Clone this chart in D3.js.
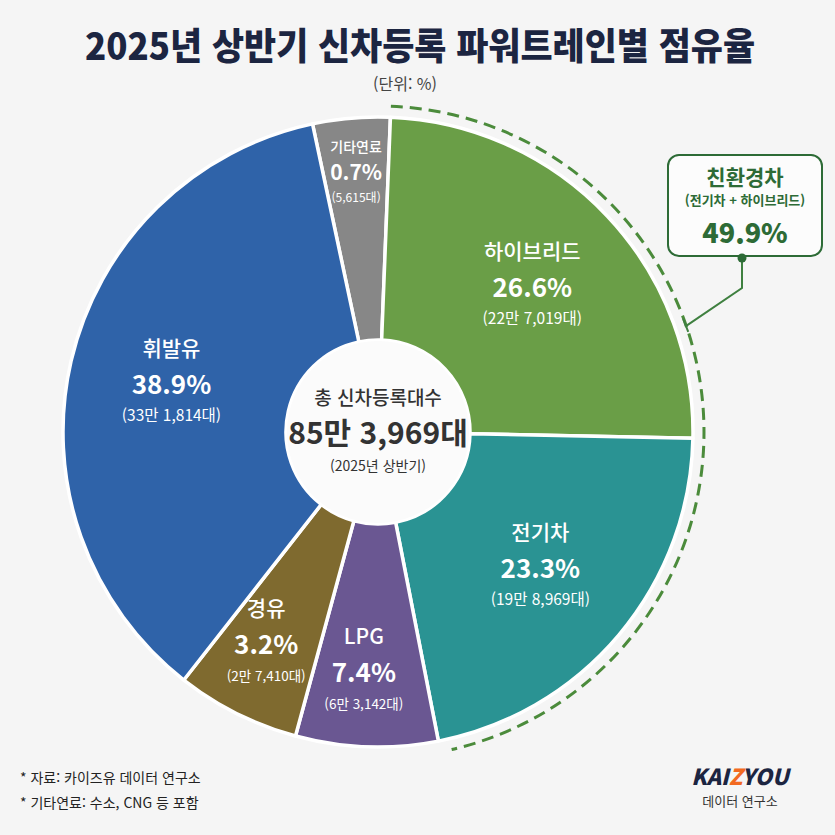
<!DOCTYPE html>
<html lang="ko">
<head>
<meta charset="utf-8">
<script src="https://cdn.jsdelivr.net/npm/d3@7"></script>
<style>
  html, body { margin: 0; padding: 0; background: #f5f5f5; }
  svg { display: block; font-family: "Noto Sans CJK KR", "Noto Sans", sans-serif; }
</style>
</head>
<body>
<div id="chart"></div>
<script>
// Data (2025 H1 new-car registrations by powertrain)
const fuels = ['기타연료', '하이브리드', '전기차', 'LPG', '경유', '휘발유'];
const shares = [0.7, 26.6, 23.3, 7.4, 3.2, 38.9];
const units = ['(5,615대)', '(22만 7,019대)', '(19만 8,969대)', '(6만 3,142대)', '(2만 7,410대)', '(33만 1,814대)'];
const colors = ['#878787', '#6a9e47', '#2a9393', '#6a5792', '#7f6a2f', '#2f63a9'];
const totalLabel = '85만 3,969대';
const ecoShare = 49.9;

const W = 835, H = 835;
const cx = 378, cy = 432;
const outerR = 315, innerR = 92;
const deg = Math.PI / 180;

const svg = d3.select('#chart')
    .append('svg')
    .attr('width', W)
    .attr('height', H);

svg.append('rect')
    .attr('width', W)
    .attr('height', H)
    .attr('fill', '#f5f5f5');

// Title
svg.append('text')
    .attr('x', 420)
    .attr('y', 60)
    .attr('text-anchor', 'middle')
    .attr('textLength', 670)
    .attr('lengthAdjust', 'spacingAndGlyphs')
    .style('font-size', '37px')
    .style('font-weight', 800)
    .style('fill', '#1c2541')
    .text('2025년 상반기 신차등록 파워트레인별 점유율');

svg.append('text')
    .attr('x', 405)
    .attr('y', 90)
    .attr('text-anchor', 'middle')
    .style('font-size', '16px')
    .style('fill', '#444')
    .text('(단위: %)');

// Slice size: small shares are stretched so their labels fit, as in the reference
const sliceScale = d3.scaleLinear()
    .domain([0, 3, 8, 100])
    .range([3.5, 6.8, 8, 100]);

const pie = d3.pie()
    .sort(null)
    .value(d => sliceScale(d))
    .startAngle(-12 * deg)
    .endAngle(348 * deg);

const slices = pie(shares);

const arc = d3.arc()
    .innerRadius(innerR)
    .outerRadius(outerR);

const g = svg.append('g')
    .attr('transform', `translate(${cx},${cy})`);

g.selectAll('.slice')
    .data(slices)
    .enter()
    .append('path')
    .attr('class', 'slice')
    .attr('d', arc)
    .attr('fill', (d, i) => colors[i])
    .attr('stroke', '#ffffff')
    .attr('stroke-width', 3.5)
    .attr('stroke-linejoin', 'round');

// Center hole
g.append('circle')
    .attr('r', innerR - 1)
    .attr('fill', '#fbfbfb');

g.append('text')
    .attr('y', -27)
    .attr('text-anchor', 'middle')
    .style('font-size', '19px')
    .style('font-weight', 500)
    .style('fill', '#333')
    .text('총 신차등록대수');

g.append('text')
    .attr('y', 12)
    .attr('text-anchor', 'middle')
    .style('font-size', '30px')
    .style('font-weight', 700)
    .style('fill', '#333')
    .text(totalLabel);

g.append('text')
    .attr('y', 39)
    .attr('text-anchor', 'middle')
    .style('font-size', '14px')
    .style('fill', '#333')
    .text('(2025년 상반기)');

// Slice labels
slices.forEach((d, i) => {
    const span = d.endAngle - d.startAngle;
    const small = span < 20 * deg;
    const narrow = !small && span < 30 * deg;
    const r = small ? 258 : narrow ? 240 : 212;
    const a = d.startAngle + span * (narrow ? 0.55 : 0.5);
    const [lx, ly] = d3.pointRadial(a, r);
    const lab = g.append('g')
        .attr('transform', `translate(${lx},${ly})`)
        .style('fill', '#ffffff')
        .attr('text-anchor', 'middle');

    lab.append('text')
        .attr('y', small ? -23 : -28)
        .style('font-size', small ? '14px' : '21px')
        .style('font-weight', 500)
        .text(fuels[i]);

    lab.append('text')
        .attr('y', small ? 5 : 10)
        .style('font-size', small ? '21px' : '26px')
        .style('font-weight', 700)
        .text(shares[i].toFixed(1) + '%');

    lab.append('text')
        .attr('y', small ? 27 : 37)
        .style('font-size', small ? '12px' : narrow ? '13.5px' : '15.5px')
        .text(units[i]);
});

// Dashed outline around eco-friendly slices (하이브리드 + 전기차)
const ecoR = 326;
const ecoPath = d3.path();
ecoPath.arc(0, 0, ecoR, slices[1].startAngle - Math.PI / 2, slices[2].endAngle - 2 * deg - Math.PI / 2);

g.append('path')
    .attr('d', ecoPath.toString())
    .attr('fill', 'none')
    .attr('stroke', '#4b8b3b')
    .attr('stroke-width', 3)
    .attr('stroke-dasharray', '12,7');

// Callout connector
const [ax, ay] = d3.pointRadial(71 * deg, ecoR);
const boxX = 668, boxY = 155, boxW = 154, boxH = 101;
const dotX = boxX + boxW / 2 - 3, dotY = boxY + boxH + 2;

svg.append('polyline')
    .attr('points', [[cx + ax, cy + ay], [dotX, dotY + 30], [dotX, dotY]].map(p => p.join(',')).join(' '))
    .attr('fill', 'none')
    .attr('stroke', '#3f8040')
    .attr('stroke-width', 2);

svg.append('line')
    .attr('x1', cx + ax - 3)
    .attr('y1', cy + ay - 7)
    .attr('x2', cx + ax + 2)
    .attr('y2', cy + ay + 6)
    .attr('stroke', '#3f8040')
    .attr('stroke-width', 2);

// Callout box
svg.append('rect')
    .attr('x', boxX)
    .attr('y', boxY)
    .attr('width', boxW)
    .attr('height', boxH)
    .attr('rx', 11)
    .attr('fill', '#fcfcfc')
    .attr('stroke', '#2d6b36')
    .attr('stroke-width', 2);

svg.append('circle')
    .attr('cx', dotX)
    .attr('cy', dotY)
    .attr('r', 4.5)
    .attr('fill', '#2d6b36');

const boxText = svg.append('g')
    .attr('text-anchor', 'middle')
    .style('fill', '#2d6b36');

boxText.append('text')
    .attr('x', boxX + boxW / 2)
    .attr('y', boxY + 30)
    .style('font-size', '21px')
    .style('font-weight', 700)
    .text('친환경차');

boxText.append('text')
    .attr('x', boxX + boxW / 2)
    .attr('y', boxY + 50)
    .style('font-size', '13px')
    .style('font-weight', 600)
    .text('(전기차 + 하이브리드)');

boxText.append('text')
    .attr('x', boxX + boxW / 2)
    .attr('y', boxY + 88)
    .style('font-size', '27px')
    .style('font-weight', 800)
    .text(ecoShare.toFixed(1) + '%');

// Footnotes
const notes = ['* 자료: 카이즈유 데이터 연구소', '* 기타연료: 수소, CNG 등 포함'];
svg.selectAll('.note')
    .data(notes)
    .enter()
    .append('text')
    .attr('class', 'note')
    .attr('x', 20)
    .attr('y', (d, i) => 783 + i * 25)
    .style('font-size', '14px')
    .style('fill', '#222')
    .text(d => d);

// Logo
const logo = svg.append('text')
    .attr('x', 740)
    .attr('y', 785)
    .attr('text-anchor', 'middle')
    .style('font-size', '22px')
    .style('font-weight', 800)
    .style('font-style', 'italic')
    .style('fill', '#1c2541');
logo.append('tspan').text('KAI');
logo.append('tspan').style('fill', '#f26a21').text('Z');
logo.append('tspan').text('YOU');

svg.append('text')
    .attr('x', 740)
    .attr('y', 806)
    .attr('text-anchor', 'middle')
    .style('font-size', '13px')
    .style('fill', '#333')
    .text('데이터 연구소');
</script>
</body>
</html>
